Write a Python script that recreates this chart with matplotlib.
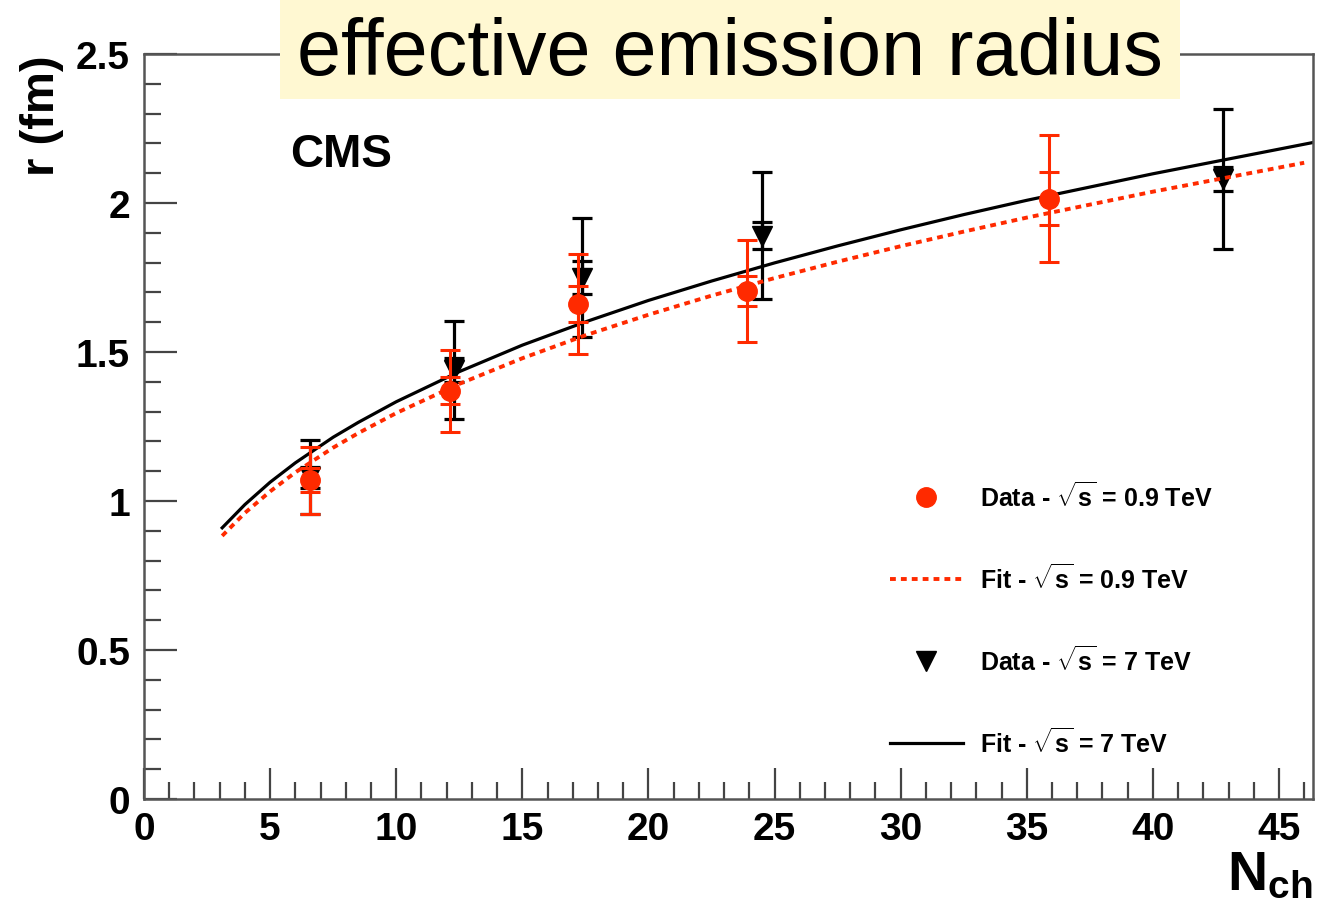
import matplotlib
matplotlib.use("Agg")
import matplotlib.pyplot as plt
from matplotlib.lines import Line2D
from matplotlib.patches import Rectangle
from matplotlib.ticker import MultipleLocator, FormatStrFormatter

plt.rcParams['font.family'] = ['Liberation Sans', 'DejaVu Sans']
plt.rcParams['font.weight'] = 'bold'
plt.rcParams['mathtext.fontset'] = 'custom'
plt.rcParams['mathtext.rm'] = 'Liberation Sans:bold'
plt.rcParams['mathtext.it'] = 'Liberation Sans:bold'
plt.rcParams['mathtext.bf'] = 'Liberation Sans:bold'

RED = '#ff2a00'

# data, sqrt(s) = 0.9 TeV
red_x = [6.6, 12.15, 17.2, 23.9, 35.9]
red_y = [1.07, 1.37, 1.66, 1.705, 2.015]
red_stat = [0.04, 0.045, 0.06, 0.05, 0.088]
red_tot = [0.112, 0.137, 0.168, 0.171, 0.213]

# data, sqrt(s) = 7 TeV
blk_x = [6.6, 12.3, 17.35, 24.5, 42.8]
blk_y = [1.08, 1.44, 1.75, 1.89, 2.08]
blk_stat = [0.035, 0.04, 0.055, 0.045, 0.04]
blk_tot = [0.125, 0.165, 0.2, 0.213, 0.235]

# fit curves
fit_x = [3.1, 4, 5, 6, 7.5, 8.5, 10, 12.5, 15, 17.5, 20, 22.5, 25, 27.5,
         30, 32.5, 35, 40, 46.35]
fit_blk = [0.91, 0.988, 1.063, 1.128, 1.214, 1.264, 1.333, 1.434, 1.523,
           1.601, 1.673, 1.738, 1.799, 1.856, 1.910, 1.961, 2.009, 2.098,
           2.203]
fit_red_x = [3.1, 4, 5, 6, 7.5, 8.5, 10, 12.5, 15, 17.5, 20, 22.5, 25, 27.5,
             30, 32.5, 35, 40, 46.0]
fit_red = [0.883, 0.960, 1.032, 1.096, 1.179, 1.228, 1.295, 1.393, 1.479,
           1.556, 1.625, 1.689, 1.748, 1.803, 1.855, 1.904, 1.951, 2.038,
           2.135]

fig = plt.figure(figsize=(13.31, 9.04), dpi=100)
ax = fig.add_axes([144 / 1331, 1 - 800 / 904, 1169 / 1331, 745 / 904])

# black series below, red on top
ax.plot(fit_x, fit_blk, color='black', lw=2.3, zorder=2)
ax.errorbar(blk_x, blk_y, yerr=blk_tot, fmt='none', ecolor='black',
            elinewidth=2.3, capsize=7, capthick=2.3, zorder=3)
ax.errorbar(blk_x, blk_y, yerr=blk_stat, fmt='none', ecolor='black',
            elinewidth=2.3, capsize=7, capthick=2.3, zorder=3)
ax.plot(blk_x, blk_y, 'v', color='black', ms=14, zorder=4)

ax.errorbar(red_x, red_y, yerr=red_tot, fmt='none', ecolor=RED,
            elinewidth=2.2, capsize=7, capthick=2.2, zorder=5)
ax.errorbar(red_x, red_y, yerr=red_stat, fmt='none', ecolor=RED,
            elinewidth=2.2, capsize=7, capthick=2.2, zorder=5)
ax.plot(red_x, red_y, 'o', color=RED, ms=14, zorder=6)
ax.plot(fit_red_x, fit_red, color=RED, lw=2.8, ls=(0, (1.5, 1.3)), zorder=7)

ax.set_xlim(0, 46.35)
ax.set_ylim(0, 2.5)
ax.xaxis.set_major_locator(MultipleLocator(5))
ax.xaxis.set_minor_locator(MultipleLocator(1))
ax.yaxis.set_major_locator(MultipleLocator(0.5))
ax.yaxis.set_minor_locator(MultipleLocator(0.1))
ax.xaxis.set_major_formatter(FormatStrFormatter('%g'))
ax.yaxis.set_major_formatter(FormatStrFormatter('%g'))
ax.tick_params(which='both', direction='in', top=False, right=False,
               color='#444444', width=1.6)
ax.tick_params(axis='x', which='major', length=22, labelsize=28, pad=9)
ax.tick_params(axis='x', which='minor', length=12)
ax.tick_params(axis='y', which='major', length=24, labelsize=28, pad=10)
ax.tick_params(axis='y', which='minor', length=12)
for sp in ax.spines.values():
    sp.set_color('#555555')
    sp.set_linewidth(1.8)

ax.text(-0.087, 1.0, 'r (fm)', rotation=90, ha='center', va='top',
        fontsize=34, fontweight='bold', transform=ax.transAxes)
ax.text(1.0, -0.068, r'$\mathbf{N_{ch}}$', ha='right', va='top',
        fontsize=40, transform=ax.transAxes)
ax.text(0.125, 0.866, 'CMS', ha='left', va='center', fontsize=33,
        fontweight='bold', transform=ax.transAxes)

handles = [
    Line2D([], [], ls='none', marker='o', color=RED, ms=14),
    Line2D([], [], color=RED, lw=2.8, ls=(0, (1.5, 1.3))),
    Line2D([], [], ls='none', marker='v', color='black', ms=14),
    Line2D([], [], color='black', lw=2.3),
]
labels = [r'Data - $\sqrt{s}$ = 0.9 TeV', r'Fit - $\sqrt{s}$ = 0.9 TeV',
          r'Data - $\sqrt{s}$ = 7 TeV', r'Fit - $\sqrt{s}$ = 7 TeV']
ax.legend(handles, labels, loc='upper left',
          bbox_to_anchor=((890 - 144) / 1169, (800 - 482) / 745),
          frameon=False, fontsize=18, handlelength=2.9, handletextpad=0.7,
          labelspacing=2.1, borderpad=0, borderaxespad=0)

# title banner across the top
fig.add_artist(Rectangle((280 / 1331, 1 - 100 / 904), 900 / 1331, 100 / 904,
                         transform=fig.transFigure, facecolor='#fff8d2',
                         edgecolor='none', zorder=10))
fig.text(730 / 1331, 1 - 75 / 904, 'effective emission radius', ha='center',
         va='baseline', fontsize=57, fontweight='normal', zorder=11)

fig.savefig('out.png', dpi=100)
